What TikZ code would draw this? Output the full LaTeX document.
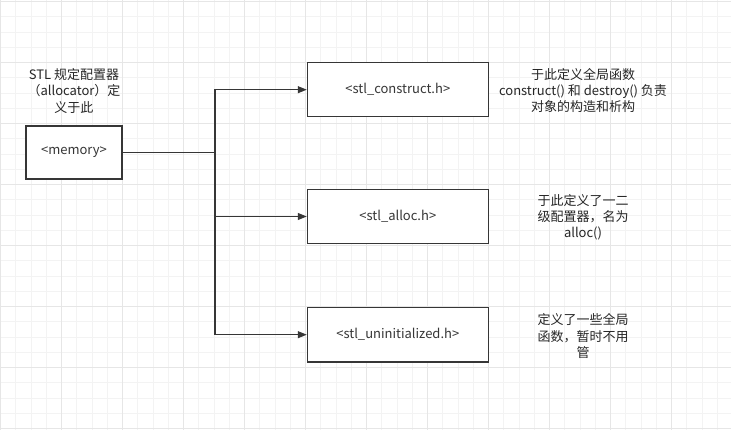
\documentclass[tikz,border=0pt]{standalone}
\usepackage{fontspec}
\setmainfont{Noto Sans CJK SC}
\usetikzlibrary{arrows.meta}
\definecolor{lin}{HTML}{363636}
\definecolor{gminor}{HTML}{F3F3F3}
\definecolor{gmajor}{HTML}{E6E6E6}
\begin{document}
\begin{tikzpicture}[x=1pt,y=-1pt,
  box/.style={draw=lin,line width=1.1pt,fill=white,inner sep=0pt,font=\fontsize{13}{16}\selectfont,text=lin},
  note/.style={align=center,inner sep=0pt,font=\fontsize{13}{16.2}\selectfont,text=black!85},
  conn/.style={draw=lin,line width=1.1pt},
  arr/.style={conn,-{Triangle[length=9pt,width=7pt]}}]
\useasboundingbox (0,0) rectangle (731,430);
\fill[white] (0,0) rectangle (731,430);
% grid
\foreach \i in {0,...,47} {
  \pgfmathsetmacro{\xx}{0.7+15.25*\i}
  \draw[gminor,line width=1pt] (\xx,0) -- (\xx,430);
}
\foreach \i in {0,...,28} {
  \pgfmathsetmacro{\yy}{1.7+15.25*\i}
  \draw[gminor,line width=1pt] (0,\yy) -- (731,\yy);
}
\foreach \i in {0,...,11} {
  \pgfmathsetmacro{\xx}{0.7+61*\i}
  \draw[gmajor,line width=1pt] (\xx,0) -- (\xx,430);
}
\foreach \i in {0,...,7} {
  \pgfmathsetmacro{\yy}{1.7+61*\i}
  \draw[gmajor,line width=1pt] (0,\yy) -- (731,\yy);
}
% boxes
\node[box,minimum width=96pt,minimum height=53pt] (mem) at (74,152.5) {<memory>};
\node[box,minimum width=181pt,minimum height=54pt] (con) at (397.8,89.7) {<stl\_construct.h>};
\node[box,minimum width=181pt,minimum height=54pt] (all) at (397.8,216.5) {<stl\_alloc.h>};
\node[box,minimum width=181pt,minimum height=54.5pt] (uni) at (397.8,334.7) {<stl\_uninitialized.h>};
% notes
\node[note] (n0) at (74,91) {STL 规定配置器\\（allocator）定\\义于此};
\node[note] (n1) at (583,90.7) {于此定义全局函数\\construct() 和 destroy() 负责\\对象的构造和析构};
\node[note] (n2) at (583,217.5) {于此定义了一二\\级配置器，名为\\alloc()};
\node[note] (n3) at (583,336) {定义了一些全局\\函数，暂时不用\\管};
% connectors
\coordinate (j) at (215,152.5);
\draw[conn] (mem.east) -- (j);
\draw[arr] (j) |- (con.west);
\draw[arr] (j) |- (all.west);
\draw[arr] (j) |- (uni.west);
\end{tikzpicture}
\end{document}
